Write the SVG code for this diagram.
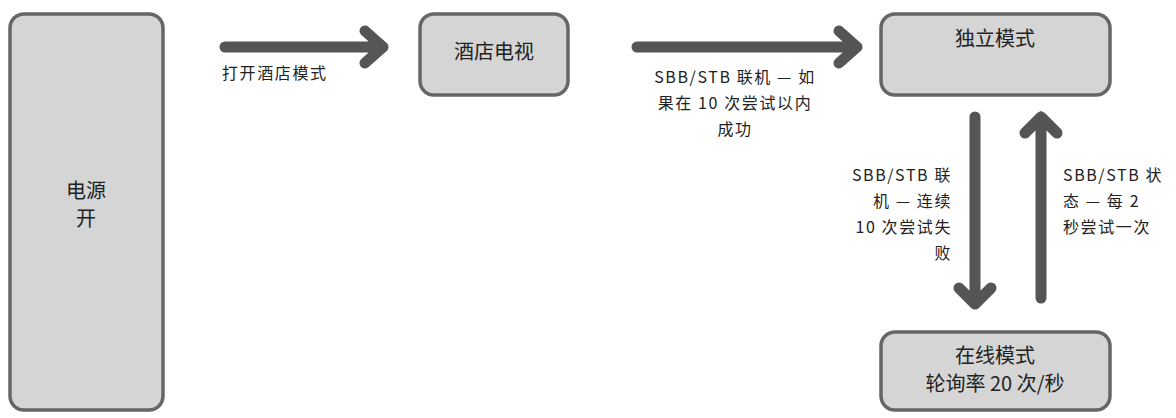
<svg xmlns="http://www.w3.org/2000/svg" width="1176" height="418" viewBox="0 0 1176 418">
<style>
.n{fill:#d5d5d5;stroke:#666;stroke-width:3.5}
.t{font-family:"Noto Sans CJK SC",sans-serif;font-size:20px;fill:#222}
.l{font-family:"Noto Sans CJK SC",sans-serif;font-size:16px;letter-spacing:1.6px;fill:#222}
.c{fill:none;stroke:#555;stroke-width:11;stroke-linecap:round;stroke-linejoin:round}
</style>
<rect width="1176" height="418" fill="#fff"/>
<g id="power"><rect class="n" x="10" y="14" width="153" height="396" rx="14"/><text class="t" x="86" y="198" text-anchor="middle">电源</text><text class="t" x="86" y="226" text-anchor="middle">开</text></g>
<g id="hoteltv"><rect class="n" x="420" y="14" width="148" height="81" rx="14"/><text class="t" x="494" y="59" text-anchor="middle">酒店电视</text></g>
<g id="standalone"><rect class="n" x="881" y="14" width="229" height="81" rx="14"/><text class="t" x="995" y="46" text-anchor="middle">独立模式</text></g>
<g id="online"><rect class="n" x="881" y="332" width="229" height="78" rx="14"/><text class="t" x="995" y="363" text-anchor="middle">在线模式</text><text class="t" x="995" y="391" text-anchor="middle">轮询率 20 次/秒</text></g>
<g id="connectors">
<path class="c" d="M225 47H383M365 31L383 47L365 63"/>
<path class="c" d="M637 47H857M839 31L857 47L839 63"/>
<path class="c" d="M975 117V304M959 288L975 304L991 288"/>
<path class="c" d="M1041 298V117M1025 133L1041 117L1057 133"/>
<text class="l" x="222" y="79">打开酒店模式</text>
<text class="l" x="735" y="83" text-anchor="middle">SBB/STB 联机 — 如</text>
<text class="l" x="735" y="109" text-anchor="middle">果在 10 次尝试以内</text>
<text class="l" x="735" y="135" text-anchor="middle">成功</text>
<text class="l" x="952" y="181" text-anchor="end">SBB/STB 联</text>
<text class="l" x="952" y="207" text-anchor="end">机 — 连续</text>
<text class="l" x="952" y="233" text-anchor="end">10 次尝试失</text>
<text class="l" x="952" y="259" text-anchor="end">败</text>
<text class="l" x="1063" y="181">SBB/STB 状</text>
<text class="l" x="1063" y="207">态 — 每 2</text>
<text class="l" x="1063" y="233">秒尝试一次</text>
</g>
</svg>
